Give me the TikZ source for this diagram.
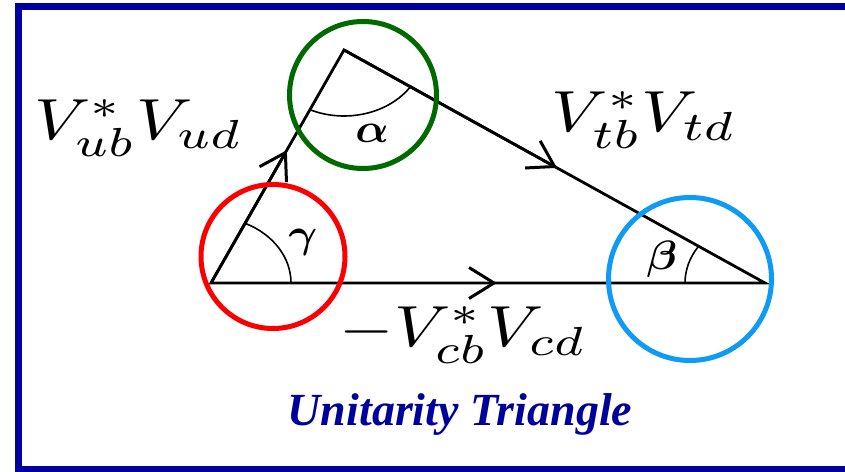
\documentclass[tikz,border=0pt]{standalone}
\usepackage{amsmath}
\usepackage{fontspec}
\newfontfamily\titlefont{Liberation Serif}
\usetikzlibrary{arrows.meta,calc}
\definecolor{frameblue}{RGB}{0,0,160}
\definecolor{titleblue}{RGB}{0,0,155}
\definecolor{ringred}{RGB}{250,0,0}
\definecolor{ringgreen}{RGB}{0,105,0}
\definecolor{ringblue}{RGB}{15,155,245}
\begin{document}
\begin{tikzpicture}[x=1pt,y=1pt,
  side/.style={line width=2.8pt, line cap=round},
  headarrow/.style={line width=2.8pt, -{Straight Barb[length=25pt,width=31pt,line width=3pt]}},
  anglearc/.style={line width=1.6pt},
  ring/.style={line width=5pt},
  greek/.style={anchor=base, inner sep=0pt},
  vlabel/.style={anchor=base, inner sep=0pt},
  titlestyle/.style={font=\titlefont\bfseries\itshape\fontsize{46}{48}\selectfont, text=titleblue, anchor=base, inner sep=0pt}]
\useasboundingbox (0,0) rectangle (845,471);
\fill[white] (0,0) rectangle (845,471);
\draw[frameblue, line width=6.5pt] (852,464.7) -- (18.5,464.7) -- (18.5,2) -- (852,2);
% vertices
\coordinate (G) at (211,188);
\coordinate (A) at (344,421);
\coordinate (B) at (765,188);
\coordinate (mGA) at ($(G)!0.57!(A)$);
\coordinate (mAB) at ($(A)!0.506!(B)$);
\coordinate (mGB) at ($(G)!0.516!(B)$);
% sides
\draw[side] (G) -- (A) -- (B) -- cycle;
\draw[headarrow] (G) -- (mGA);
\draw[headarrow] (A) -- (mAB);
\draw[headarrow] (G) -- (mGB);
% angle arcs
\draw[anglearc] (G) ++(0:80 and 66) arc[start angle=0,end angle=64.8,x radius=80,y radius=66];
\draw[anglearc] (A) ++(244.8:80 and 66) arc[start angle=244.8,end angle=326.1,x radius=80,y radius=66];
\draw[anglearc] (B) ++(146.1:80 and 66) arc[start angle=146.1,end angle=180,x radius=80,y radius=66];
% greek letters
\node[greek] (gam) at (303,223) {\scalebox{4.4}[4.1]{$\boldsymbol{\gamma}$}};
\node[greek] (alp) at (372,328) {\scalebox{4.4}[4.1]{$\boldsymbol{\alpha}$}};
\node[greek] (bet) at (662,201) {\scalebox{4.4}[4.1]{$\boldsymbol{\beta}$}};
% circles
\draw[ring, ringred] (273,214.5) circle[radius=72];
\draw[ring, ringgreen] (363,376) circle[radius=73.5];
\draw[ring, ringblue] (690,192) circle[radius=81.5];
% side labels
\node[vlabel] (lub) at (138.5,331) {\scalebox{7.0}[5.8]{$V_{ub}^{*}V_{ud}$}};
\node[vlabel] (ltb) at (644,339) {\scalebox{7.0}[5.8]{$V_{tb}^{*}V_{td}$}};
\node[vlabel] (lcb) at (463,124) {\scalebox{7.0}[5.8]{$-V_{cb}^{*}V_{cd}$}};
% title
\node[titlestyle] (title) at (460,46) {Unitarity Triangle};
\end{tikzpicture}
\end{document}
